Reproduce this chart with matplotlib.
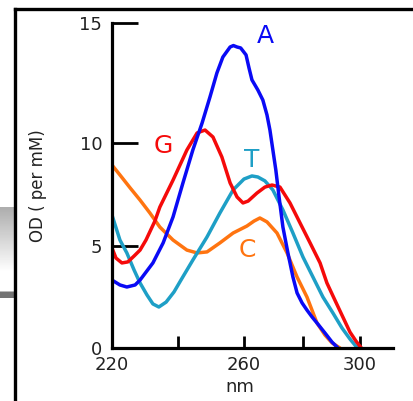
import matplotlib
matplotlib.use("Agg")
import matplotlib.pyplot as plt
import numpy as np
from matplotlib.lines import Line2D

# absorbance spectra of the four bases (nm, OD per mM)
A_NM = [220, 222.4, 224.5, 227.0, 228.5, 232.4, 235.5, 238.5, 241.5, 244.5,
        247.3, 249.7, 251.8, 253.6, 255.8, 256.8, 257.9, 259.0, 260.7, 261.7,
        262.7, 264.7, 266.4, 267.8, 268.8, 269.8, 270.8, 271.9, 273.2, 274.9,
        276.6, 278.0, 279.7, 281.4, 283.2, 284.9, 287.7, 290.2, 292.3]
A_OD = [3.33, 3.09, 2.99, 3.09, 3.33, 4.17, 5.15, 6.41, 8.06, 9.66,
        10.83, 11.92, 12.92, 13.58, 14.0, 14.06, 14.0, 13.96, 13.67, 13.13,
        12.63, 12.21, 11.79, 11.17, 10.54, 9.66, 8.69, 7.38, 5.92, 4.66,
        3.48, 2.70, 2.21, 1.86, 1.52, 1.23, 0.74, 0.29, 0.0]

G_NM = [220, 221.2, 223.0, 224.8, 226.7, 228.5, 230.3, 233.0, 234.5, 238.5,
        242.7, 245.8, 248.2, 250.6, 253.3, 255.8, 257.9, 259.7, 261.4, 264.4,
        267.1, 269.5, 272.2, 275.6, 279.0, 282.5, 286.0, 288.4, 291.2, 294.0,
        296.5, 298.6, 300.5]
G_OD = [4.90, 4.41, 4.17, 4.22, 4.51, 4.80, 5.29, 6.21, 6.89, 8.20,
        9.66, 10.42, 10.54, 10.25, 9.32, 8.06, 7.38, 7.09, 7.18, 7.57,
        7.86, 7.96, 7.86, 7.09, 6.12, 5.15, 4.17, 3.19, 2.35, 1.52,
        0.78, 0.34, 0.0]

T_NM = [220, 222.4, 224.5, 226.7, 228.5, 230.6, 232.4, 234.2, 236.4, 238.8,
        240.9, 244.5, 248.8, 252.7, 256.7, 260.0, 262.7, 264.7, 267.1, 269.8,
        273.2, 276.6, 280.0, 283.5, 287.0, 290.5, 293.7, 296.5, 298.5, 300.0]
T_OD = [6.50, 5.29, 4.66, 3.82, 3.19, 2.60, 2.16, 2.01, 2.25, 2.75,
        3.33, 4.31, 5.44, 6.60, 7.72, 8.25, 8.40, 8.35, 8.16, 7.72,
        6.75, 5.63, 4.46, 3.48, 2.50, 1.72, 0.98, 0.44, 0.10, 0.0]

C_NM = [220, 222.4, 225.5, 228.5, 231.5, 234.5, 238.5, 242.7, 245.8, 248.8,
        252.7, 256.7, 261.0, 263.4, 265.4, 267.8, 271.2, 274.6, 278.0, 281.4,
        284.9, 287.7, 290.2, 293.0]
C_OD = [8.93, 8.45, 7.82, 7.23, 6.60, 5.92, 5.29, 4.80, 4.66, 4.71,
        5.15, 5.63, 5.97, 6.21, 6.36, 6.17, 5.63, 4.66, 3.48, 2.50,
        1.23, 0.64, 0.25, 0.0]

X_TICKS = [220, 240, 260, 280, 300]
X_TICK_LABELS = ["220", "", "260", "", "300"]
Y_TICKS = [0, 5, 10, 15]

# the original axes are hand drawn, so tick spacing is not quite even
NM_KNOTS = [200, 220, 240, 260, 280, 300, 320, 340]
NM_PX = [-66, 0, 66, 132, 191, 248, 305, 362]
OD_KNOTS = [-5, 0, 5, 10, 15, 20]
OD_PX = [-102, 0, 102, 205, 325, 445]

C_A = "#0a0af5"
C_G = "#f50a0a"
C_T = "#1e9fc6"
C_C = "#ff7410"


def warp(knots, px):
    fwd = lambda v: np.interp(v, knots, px)
    inv = lambda u: np.interp(u, px, knots)
    return fwd, inv


fig = plt.figure(figsize=(4.13, 4.01), dpi=100)
fig.patch.set_facecolor("white")

# grey gradient strip on the left edge
strip = fig.add_axes([0, (401 - 298) / 401, 13 / 413, 91 / 401])
grad = np.linspace(0.68, 1.0, 60)
grad = np.concatenate([grad, np.ones(18), np.full(6, 0.45)])
strip.imshow(grad[:, None], cmap="gray", vmin=0, vmax=1, aspect="auto",
             interpolation="bilinear")
strip.axis("off")

# frame lines
fig.add_artist(Line2D([14.5 / 413, 14.5 / 413], [0, 1 - 8.5 / 401],
                      color="black", linewidth=2.4, transform=fig.transFigure))
fig.add_artist(Line2D([14.5 / 413, 1], [1 - 8.5 / 401, 1 - 8.5 / 401],
                      color="black", linewidth=2.4, transform=fig.transFigure))

ax = fig.add_axes([112 / 413, 53 / 401, 281 / 413, 325 / 401])
ax.set_xscale("function", functions=warp(NM_KNOTS, NM_PX))
ax.set_yscale("function", functions=warp(OD_KNOTS, OD_PX))

lw = 2.5
for nm, od, color in ((C_NM, C_OD, C_C), (T_NM, T_OD, C_T),
                      (G_NM, G_OD, C_G), (A_NM, A_OD, C_A)):
    ax.plot(nm, od, color=color, linewidth=lw, solid_capstyle="round",
            solid_joinstyle="round")

ax.set_xlim(220, 311.6)
ax.set_ylim(0, 15)

for side in ("top", "right"):
    ax.spines[side].set_visible(False)
for side in ("left", "bottom"):
    ax.spines[side].set_linewidth(2.3)

ax.set_xticks(X_TICKS)
ax.set_xticklabels(X_TICK_LABELS)
ax.set_yticks(Y_TICKS)
ax.minorticks_off()
ax.tick_params(axis="x", direction="in", length=9, width=2, pad=6,
               labelsize=13, labelcolor="#222222")
ax.tick_params(axis="y", direction="in", length=19, width=2, pad=7,
               labelsize=13, labelcolor="#222222")

ax.set_xlabel("nm", fontsize=13, color="#222222")
ax.set_ylabel("OD ( per mM)", fontsize=12, color="#222222")
ax.yaxis.set_label_coords(-0.231, 0.5)
ax.xaxis.set_label_coords(0.455, -0.092)

for label, x, y, color in (("A", 0.5445, 0.960, C_A), ("G", 0.183, 0.6215, C_G),
                           ("T", 0.498, 0.578, C_T), ("C", 0.480, 0.3015, C_C)):
    ax.text(x, y, label, transform=ax.transAxes, fontsize=18, color=color,
            ha="center", va="center")

fig.savefig("out.png", dpi=100)
